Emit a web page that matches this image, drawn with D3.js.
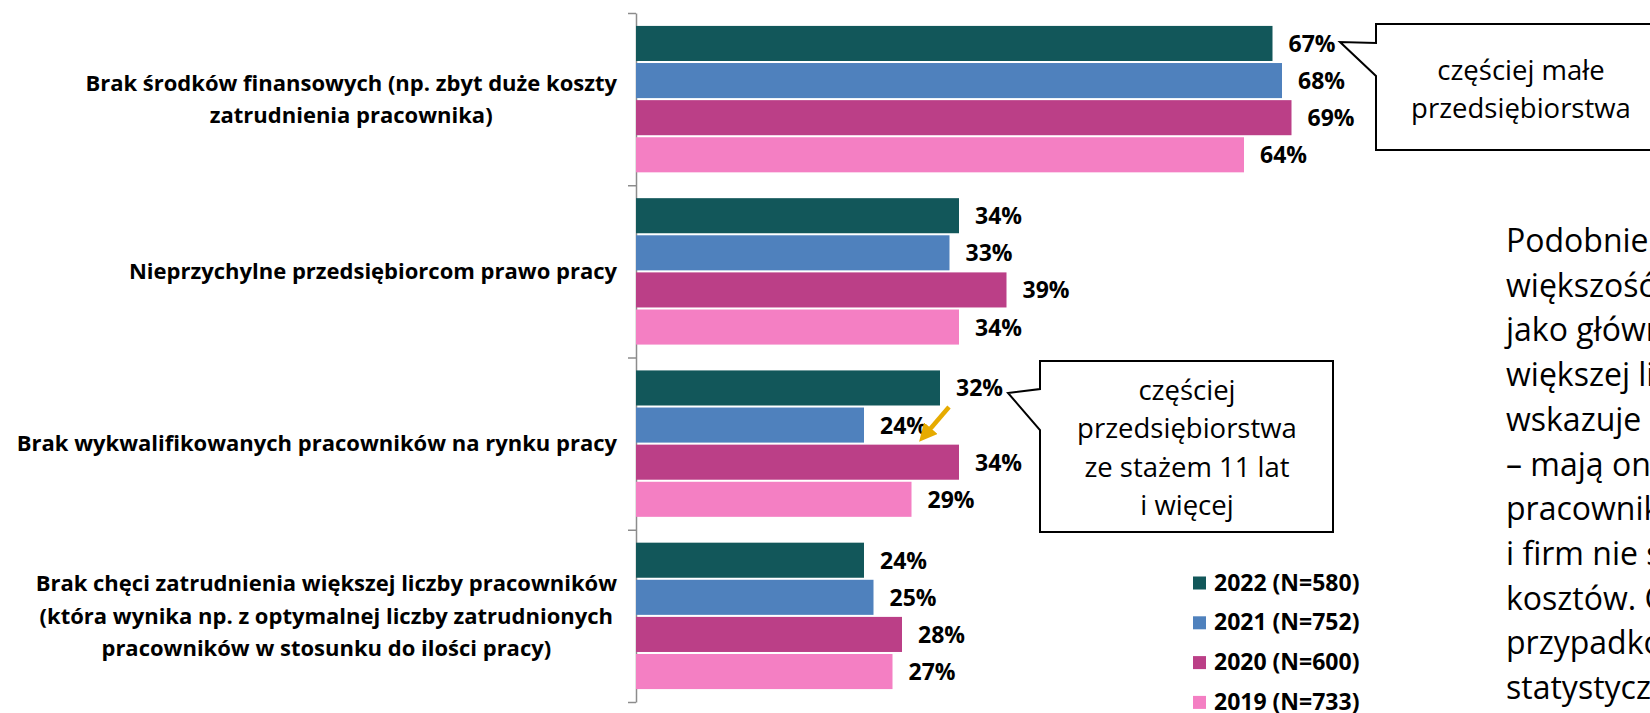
<!DOCTYPE html>
<html>
<head>
<meta charset="utf-8">
<script src="https://cdn.jsdelivr.net/npm/d3@7"></script>
<style>
  body { margin: 0; background: #fff; }
  svg { display: block; font-family: 'Open Sans', 'Noto Sans', sans-serif; }
</style>
</head>
<body>
<svg width="1650" height="713"></svg>
<script>
// categories (line breaks as in the original labels)
const categories = [
  'Brak środków finansowych (np. zbyt duże koszty\nzatrudnienia pracownika)',
  'Nieprzychylne przedsiębiorcom prawo pracy',
  'Brak wykwalifikowanych pracowników na rynku pracy',
  'Brak chęci zatrudnienia większej liczby pracowników\n(która wynika np. z optymalnej liczby zatrudnionych\npracowników w stosunku do ilości pracy)'
]
const years = ['2022 (N=580)', '2021 (N=752)', '2020 (N=600)', '2019 (N=733)']
const v2022 = [67, 34, 32, 24]
const v2021 = [68, 33, 24, 25]
const v2020 = [69, 39, 34, 28]
const v2019 = [64, 34, 29, 27]
const colors = ['#12575a', '#4f81bd', '#bb3f87', '#f47fc3']

const callout1 = ['częściej małe', 'przedsiębiorstwa']
const callout2 = ['częściej', 'przedsiębiorstwa', 'ze stażem 11 lat', 'i więcej']
const sideText = ['Podobnie jak', 'większość firm', 'jako główną', 'większej liczby', 'wskazuje brak',
  '– mają one', 'pracownika', 'i firm nie stać', 'kosztów. Co', 'przypadków', 'statystycznie']

const series = [v2022, v2021, v2020, v2019]

let svg = d3.select('svg')

let x = d3.scaleLinear().domain([0, 100]).range([636, 1586])
let y = d3.scaleBand().domain(categories).range([13, 702]).paddingInner(0.15).paddingOuter(0.075)
let ys = d3.scaleBand().domain(years).range([0, y.bandwidth()]).paddingInner(0.055)

// axis with ticks between the categories
let yTicks = d3.scaleLinear().domain([0, categories.length]).range([13, 702])
let axis = svg.append('g')
  .attr('transform', 'translate(636,0)')
  .call(d3.axisLeft(yTicks).tickValues(d3.range(categories.length + 1)).tickSize(8).tickSizeOuter(0).tickFormat(''))
axis.selectAll('path, line').attr('stroke', '#8c8c8c').attr('stroke-width', 1.5)

// bars
let groups = svg.selectAll('.grp')
  .data(categories)
  .enter()
  .append('g')
  .attr('class', 'grp')
  .attr('transform', d => 'translate(0,' + y(d) + ')')

groups.each(function (cat, ci) {
  let g = d3.select(this)
  let rows = years.map((yr, si) => ({ yr: yr, v: series[si][ci], c: colors[si] }))
  g.selectAll('rect')
    .data(rows)
    .enter()
    .append('rect')
    .attr('x', x(0))
    .attr('y', d => ys(d.yr))
    .attr('width', d => x(d.v) - x(0))
    .attr('height', ys.bandwidth())
    .attr('fill', d => d.c)
  g.selectAll('text.val')
    .data(rows)
    .enter()
    .append('text')
    .attr('class', 'val')
    .attr('x', d => x(d.v) + 16)
    .attr('y', d => ys(d.yr) + ys.bandwidth() / 2 + 8.5)
    .attr('font-size', 23)
    .attr('font-weight', 700)
    .attr('fill', '#000')
    .text(d => d.v + '%')
})

// category labels: block right-aligned, lines centered in the block
categories.forEach(cat => {
  let lines = cat.split('\n')
  let cy = y(cat) + y.bandwidth() / 2
  let t = svg.append('text')
    .attr('font-size', 22)
    .attr('font-weight', 700)
    .attr('text-anchor', 'middle')
  let spans = lines.map((ln, i) => t.append('tspan')
    .attr('y', cy + (i - (lines.length - 1) / 2) * 32.6 + 7.7)
    .text(ln))
  let w = d3.max(spans, s => s.node().getComputedTextLength())
  spans.forEach(s => s.attr('x', 617 - w / 2))
})

// legend
let legend = svg.append('g').attr('transform', 'translate(1193,582.5)')
years.forEach((yr, i) => {
  let row = legend.append('g').attr('transform', 'translate(0,' + i * 39.8 + ')')
  row.append('rect').attr('x', 0).attr('y', -6).attr('width', 13).attr('height', 13).attr('fill', colors[i])
  row.append('text').attr('x', 21).attr('y', 8)
    .attr('font-size', 23).attr('font-weight', 700).text(yr)
})

// callouts
function callout(pts, lines, cx, y0) {
  svg.append('path')
    .attr('d', d3.line()(pts) + 'Z')
    .attr('fill', '#fff')
    .attr('stroke', '#000')
    .attr('stroke-width', 2)
  let t = svg.append('text').attr('font-size', 27.5).attr('text-anchor', 'middle').attr('fill', '#000')
  lines.forEach((ln, i) => t.append('tspan').attr('x', cx).attr('y', y0 + i * 38.4).text(ln))
}
callout([[1376, 24], [1665, 24], [1665, 150], [1376, 150], [1376, 76], [1340, 42], [1376, 43]],
  callout1, 1521, 80)
callout([[1040, 361], [1333, 361], [1333, 532], [1040, 532], [1040, 430], [1008, 393], [1040, 389]],
  callout2, 1187, 400)

// orange arrow
svg.append('defs').append('marker')
  .attr('id', 'ah').attr('viewBox', '0 0 10 10').attr('refX', 5).attr('refY', 5)
  .attr('markerWidth', 4).attr('markerHeight', 4).attr('orient', 'auto')
  .append('path').attr('d', 'M0,0L10,5L0,10Z').attr('fill', '#e6ab00')
svg.append('line')
  .attr('x1', 949).attr('y1', 407).attr('x2', 925).attr('y2', 435)
  .attr('stroke', '#e6ab00').attr('stroke-width', 4.5)
  .attr('marker-end', 'url(#ah)')

// clipped side paragraph
let side = svg.append('text').attr('font-size', 32).attr('fill', '#000')
sideText.forEach((ln, i) => side.append('tspan').attr('x', 1506).attr('y', 252 + i * 44.7).text(ln))
</script>
</body>
</html>
